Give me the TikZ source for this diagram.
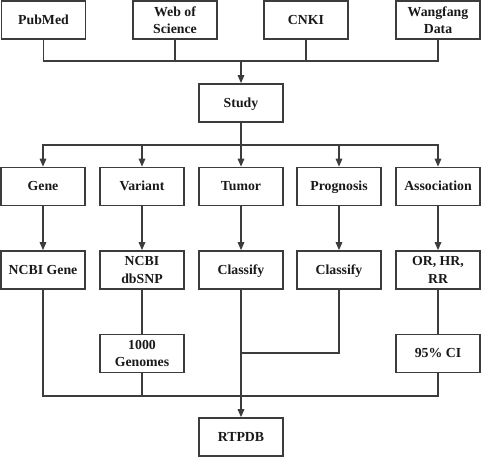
\documentclass[tikz,border=0pt]{standalone}
\usepackage{fontspec}
\setmainfont{Liberation Serif}
\usetikzlibrary{arrows.meta}
\definecolor{ln}{HTML}{3C3C3C}
\begin{document}
\begin{tikzpicture}[x=1pt,y=-1pt,
  box/.style={draw=ln,line width=1.6pt,minimum width=84pt,minimum height=38pt,inner sep=0pt,align=center,font=\fontsize{13.8}{17.5}\selectfont\bfseries,text=black!90},
  one/.style={box,text height=0.8em,text depth=0pt},
  con/.style={draw=ln,line width=1.5pt},
  arr/.style={con,-{Triangle[length=8pt,width=6.5pt]}}]
\useasboundingbox (0,0) rectangle (481,458);
% row 1
\node[one] (pub) at (43.5,20) {PubMed};
\node[box] (wos) at (175,20) {Web of\\Science};
\node[one] (cnki) at (306,20) {CNKI};
\node[box] (wf) at (438,20) {Wangfang\\Data};
\coordinate (j1) at (241,61);
\node[one] (study) at (241,103) {Study};
\coordinate (j2) at (241,145);
% row 2
\node[one] (gene) at (43,186.5) {Gene};
\node[one] (var) at (142,186.5) {Variant};
\node[one] (tum) at (241,186.5) {Tumor};
\node[one] (prog) at (339,186.5) {Prognosis};
\node[one] (assoc) at (438,186.5) {Association};
% row 3
\node[one] (ngene) at (43,270) {NCBI Gene};
\node[box] (snp) at (142,270) {NCBI\\dbSNP};
\node[one] (cls1) at (241,270) {Classify};
\node[one] (cls2) at (339,270) {Classify};
\node[box] (orhr) at (438,270) {OR, HR,\\RR};
% row 4
\node[box] (kg) at (142,353.5) {1000\\Genomes};
\node[one] (ci) at (438,353.5) {95\% CI};
\coordinate (j4) at (241,353);
\coordinate (j3) at (241,396);
\node[one] (rt) at (241,437) {RTPDB};
% connectors
\draw[con] (pub.south) |- (j1);
\draw[con] (wos.south) |- (j1);
\draw[con] (cnki.south) |- (j1);
\draw[con] (wf.south) |- (j1);
\draw[arr] (j1) -- (study.north);
\draw[con] (study.south) -- (j2);
\draw[arr] (j2) -| (gene.north);
\draw[arr] (j2) -| (var.north);
\draw[arr] (j2) -- (tum.north);
\draw[arr] (j2) -| (prog.north);
\draw[arr] (j2) -| (assoc.north);
\draw[arr] (gene) -- (ngene);
\draw[arr] (var) -- (snp);
\draw[arr] (tum) -- (cls1);
\draw[arr] (prog) -- (cls2);
\draw[arr] (assoc) -- (orhr);
\draw[con] (snp) -- (kg);
\draw[con] (orhr) -- (ci);
\draw[con] (cls2.south) |- (j4);
\draw[con] (ngene.south) |- (j3);
\draw[con] (kg.south) |- (j3);
\draw[con] (ci.south) |- (j3);
\draw[arr] (cls1.south) -- (rt.north);
\end{tikzpicture}
\end{document}
